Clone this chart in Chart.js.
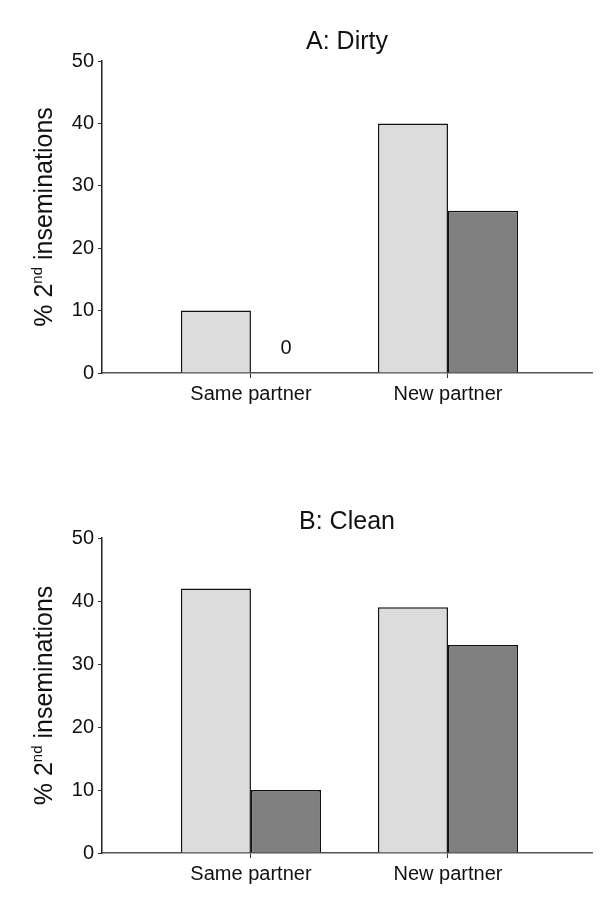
<!DOCTYPE html>
<html>
<head>
<meta charset="utf-8">
<script src="https://cdn.jsdelivr.net/npm/chart.js@4.4.1/dist/chart.umd.min.js"></script>
<style>
    html, body { margin: 0; padding: 0; background: #fff; }
    .box { position: absolute; left: 0; width: 600px; }
</style>
</head>
<body>
<div class="box" style="top:0;height:440px"><canvas id="chart-1"></canvas></div>
<div class="box" style="top:470px;height:437px"><canvas id="chart-2"></canvas></div>
<script>
// Données
const categories = ['Same partner', 'New partner'];
const dirtyLight = [10, 40];
const dirtyDark = [0, 26];
const cleanLight = [42, 39];
const cleanDark = [10, 33];
const yTicks = [0, 10, 20, 30, 40, 50];

const FONT = '"Liberation Sans", Arial, sans-serif';

// titre du panneau, centré sur la zone du graphe
const panelTitlePlugin = {
    id: 'panelTitle',
    afterDraw(chart, args, opts) {
        const ctx = chart.ctx;
        const area = chart.chartArea;
        ctx.save();
        ctx.font = '25px ' + FONT;
        ctx.fillStyle = '#111';
        ctx.textAlign = 'center';
        ctx.textBaseline = 'middle';
        ctx.fillText(opts.text, (area.left + area.right) / 2, opts.y);
        ctx.restore();
    }
};

// titre vertical avec exposant "nd"
const yTitlePlugin = {
    id: 'yTitle',
    afterDraw(chart) {
        const ctx = chart.ctx;
        const area = chart.chartArea;
        const cy = (area.top + area.bottom) / 2;
        const big = '25px ' + FONT;
        const small = '15px ' + FONT;
        ctx.save();
        ctx.translate(52, cy);
        ctx.rotate(-Math.PI / 2);
        ctx.fillStyle = '#111';
        ctx.textBaseline = 'alphabetic';
        ctx.font = big;
        const w1 = ctx.measureText('% 2').width;
        const w3 = ctx.measureText(' inseminations').width;
        ctx.font = small;
        const w2 = ctx.measureText('nd').width;
        let x = -(w1 + w2 + w3) / 2;
        ctx.font = big;
        ctx.fillText('% 2', x, 0);
        x += w1;
        ctx.font = small;
        ctx.fillText('nd', x, -10);
        x += w2;
        ctx.font = big;
        ctx.fillText(' inseminations', x, 0);
        ctx.restore();
    }
};

// "0" au-dessus des barres nulles
const zeroLabelPlugin = {
    id: 'zeroLabel',
    afterDatasetsDraw(chart) {
        const ctx = chart.ctx;
        chart.data.datasets.forEach((ds, i) => {
            const meta = chart.getDatasetMeta(i);
            ds.data.forEach((p, j) => {
                if (p.y === 0) {
                    const bar = meta.data[j];
                    ctx.save();
                    ctx.font = '20px ' + FONT;
                    ctx.fillStyle = '#111';
                    ctx.textAlign = 'center';
                    ctx.textBaseline = 'middle';
                    ctx.fillText('0', bar.x, bar.y - 25);
                    ctx.restore();
                }
            });
        });
    }
};

function makeChart(id, title, light, dark, geo) {
    const ctx = document.getElementById(id).getContext('2d');
    return new Chart(ctx, {
        type: 'bar',
        data: {
            datasets: [{
                label: 'light',
                data: categories.map((c, i) => ({ x: i + 1, y: light[i] })),
                backgroundColor: '#dcdcdc',
                borderColor: '#111',
                borderWidth: 1.5,
                barPercentage: 1,
                categoryPercentage: 0.711
            }, {
                label: 'dark',
                data: categories.map((c, i) => ({ x: i + 1, y: dark[i] })),
                backgroundColor: '#808080',
                borderColor: '#111',
                borderWidth: 1.5,
                barPercentage: 1,
                categoryPercentage: 0.711
            }]
        },
        options: {
            responsive: true,
            maintainAspectRatio: false,
            animation: false,
            layout: { padding: { left: 0, right: 8, top: geo.top, bottom: geo.bottom } },
            plugins: {
                legend: { display: false },
                tooltip: { enabled: false },
                title: { display: false },
                panelTitle: { text: title, y: geo.titleY }
            },
            scales: {
                x: {
                    type: 'linear',
                    offset: false,
                    min: 0.244,
                    max: 2.731,
                    afterFit: (s) => { s.height = 40; },
                    grid: { display: true, offset: false, drawOnChartArea: false, tickLength: 5, color: '#333' },
                    border: { color: '#555', width: 1.5 },
                    ticks: {
                        stepSize: 1,
                        includeBounds: false,
                        padding: 4,
                        color: '#111',
                        font: { family: FONT, size: 20 },
                        callback: (v) => categories[v - 1] || ''
                    }
                },
                y: {
                    min: yTicks[0],
                    max: yTicks[yTicks.length - 1],
                    afterFit: (s) => { s.width = 102; },
                    grid: { display: true, drawOnChartArea: false, tickLength: 4, color: '#333' },
                    border: { color: '#222', width: 1.5 },
                    ticks: {
                        stepSize: yTicks[1] - yTicks[0],
                        padding: 4,
                        color: '#111',
                        font: { family: FONT, size: 20 }
                    }
                }
            }
        },
        plugins: [panelTitlePlugin, yTitlePlugin, zeroLabelPlugin]
    });
}

makeChart('chart-1', 'A: Dirty', dirtyLight, dirtyDark, { top: 61, bottom: 27, titleY: 42 });
makeChart('chart-2', 'B: Clean', cleanLight, cleanDark, { top: 68, bottom: 14, titleY: 52 });
</script>
</body>
</html>
